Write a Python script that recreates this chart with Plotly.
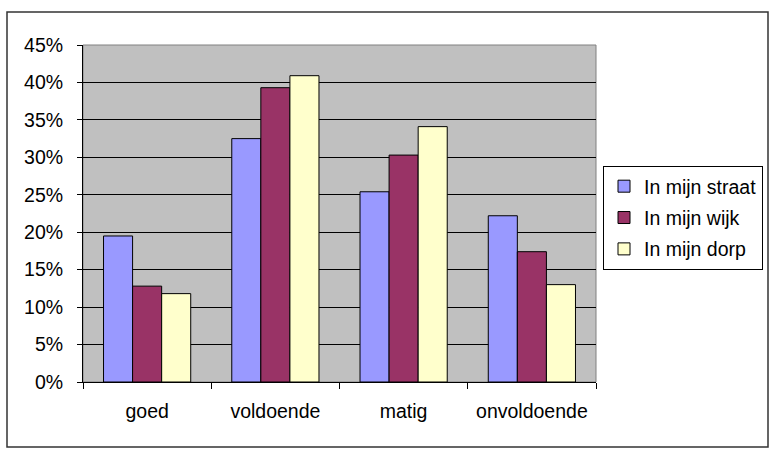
import plotly.graph_objects as go

categories = ["goed", "voldoende", "matig", "onvoldoende"]
series_names = ["In mijn straat", "In mijn wijk", "In mijn dorp"]
straat = [0.195, 0.325, 0.254, 0.222]
wijk = [0.128, 0.393, 0.303, 0.174]
dorp = [0.118, 0.409, 0.341, 0.130]
colors = ["#9999FF", "#993366", "#FFFFCC"]

W, H = 770, 450
L, R, T, B = 83, 596, 45, 382
pw, ph = R - L, B - T

def px2x(px):
    return (px - L) / pw

def py2y(py):
    return (B - py) / ph

FONT = "Liberation Sans, Arial, sans-serif"
fs = 19.5

fig = go.Figure()
for name, vals, col in zip(series_names, [straat, wijk, dorp], colors):
    fig.add_trace(go.Bar(
        x=categories, y=vals, name=name, legendgroup=name,
        marker=dict(color=col, line=dict(color="black", width=1)),
        hoverinfo="x+y+name",
    ))

fig.update_layout(
    width=W, height=H,
    margin=dict(l=L, r=W - R, t=T, b=H - B, pad=0, autoexpand=False),
    paper_bgcolor="white",
    plot_bgcolor="#C0C0C0",
    barmode="group",
    bargap=0.32,
    bargroupgap=0,
    font=dict(family=FONT, size=fs, color="black"),
    showlegend=True,
    legend=dict(
        x=px2x(603), y=py2y(166), xanchor="left", yanchor="top",
        bgcolor="white", bordercolor="black", borderwidth=1,
        font=dict(family=FONT, size=fs),
        tracegroupgap=3, traceorder="grouped",
    ),
    xaxis=dict(
        type="category",
        showgrid=False,
        showline=True, linecolor="black", linewidth=1,
        ticks="outside", ticklen=6, tickcolor="black", tickwidth=1,
        tickson="boundaries",
        ticklabelstandoff=12,
        tickfont=dict(family=FONT, size=fs),
        fixedrange=True,
    ),
    yaxis=dict(
        range=[0, 0.45], dtick=0.05, tickformat=".0%",
        showgrid=True, gridcolor="black", gridwidth=1,
        showline=True, linecolor="black", linewidth=1,
        ticks="outside", ticklen=5, tickcolor="black", tickwidth=1,
        ticklabelstandoff=10,
        zeroline=False,
        tickfont=dict(family=FONT, size=fs),
        fixedrange=True,
    ),
    shapes=[
        dict(type="rect", xref="paper", yref="paper",
             x0=0, x1=1, y0=0, y1=1,
             line=dict(color="#808080", width=1), layer="below"),
        dict(type="rect", xref="paper", yref="paper",
             x0=px2x(7), x1=px2x(768), y0=py2y(447), y1=py2y(12),
             line=dict(color="#333333", width=1.5), layer="above"),
    ],
)

fig.write_html(
    "out.html",
    config={"displayModeBar": False},
    post_script="document.body.style.margin='0';document.body.style.padding='0';",
)
